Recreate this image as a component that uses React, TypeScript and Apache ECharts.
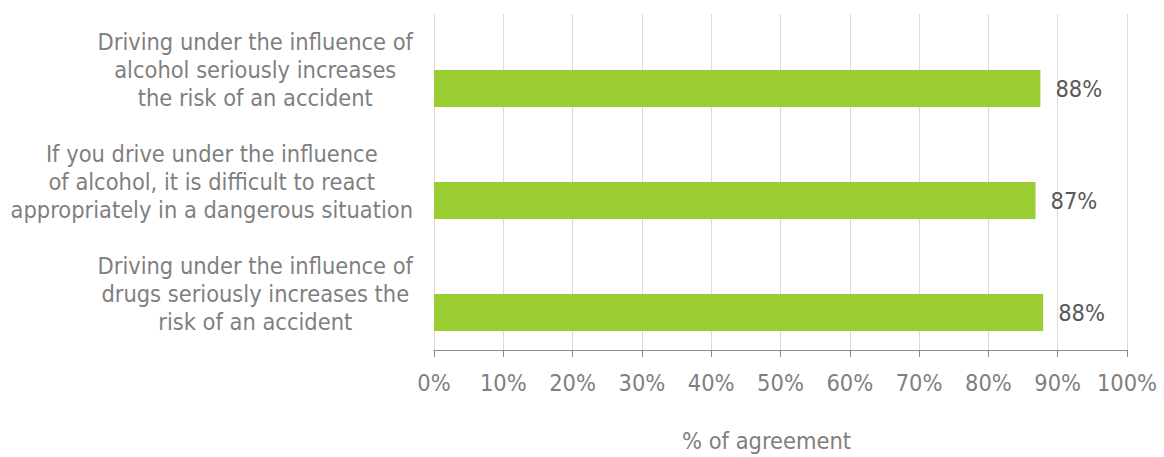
import React, { useEffect, useRef } from "react";
import * as echarts from "echarts";

const categories: string[] = [
  "Driving under the influence of\nalcohol seriously increases\nthe risk of an accident",
  "If you drive under the influence\nof alcohol, it is difficult to react\nappropriately in a dangerous situation",
  "Driving under the influence of\ndrugs seriously increases the\nrisk of an accident",
];
const agreement: number[] = [87.5, 86.8, 87.9];
const spacer: number[] = [0, 0, 0];
const xTicks: number[] = [0, 10, 20, 30, 40, 50, 60, 70, 80, 90, 100];

const FONT = "'DejaVu Sans Condensed', 'DejaVu Sans', sans-serif";
const FS = 23.4;

export default function App() {
  const ref = useRef<HTMLDivElement>(null);
  useEffect(() => {
    document.body.style.margin = "0";
    if (!ref.current) return;
    const chart = echarts.init(ref.current, null, { renderer: "svg" });
    chart.setOption({
      animation: false,
      backgroundColor: "#ffffff",
      grid: { left: 434, right: 37, top: 14, bottom: 107, containLabel: false },
      xAxis: {
        type: "value",
        min: xTicks[0],
        max: xTicks[xTicks.length - 1],
        interval: 10,
        name: "% of agreement",
        nameLocation: "middle",
        nameGap: 79,
        nameTextStyle: {
          fontFamily: FONT,
          fontSize: FS,
          color: "#7f7f7f",
          padding: [0, 28, 0, 0],
        },
        axisLine: { show: true, lineStyle: { color: "#8c8c8c", width: 1 } },
        axisTick: { show: true, length: 7, lineStyle: { color: "#8c8c8c" } },
        axisLabel: {
          formatter: (v: number) => `${v}%`,
          fontFamily: FONT,
          fontSize: FS,
          color: "#7f7f7f",
          margin: 21,
        },
        splitLine: { show: true, lineStyle: { color: "#dcdcdc", width: 1 } },
      },
      yAxis: {
        type: "category",
        inverse: true,
        data: categories,
        axisLine: { show: false },
        axisTick: { show: false },
        axisLabel: {
          align: "right",
          margin: 21,
          fontFamily: FONT,
          fontSize: FS,
          color: "#7f7f7f",
          lineHeight: 28,
          formatter: (v: string) =>
            v
              .split("\n")
              .map((l) => `{c|${l}}`)
              .join("\n"),
          rich: {
            c: {
              align: "center",
              fontFamily: FONT,
              fontSize: FS,
              color: "#7f7f7f",
              lineHeight: 28,
            },
          },
        },
      },
      series: [
        {
          type: "bar",
          name: "spacer",
          data: spacer,
          barWidth: 37,
          barGap: "0%",
          silent: true,
          itemStyle: { color: "rgba(0,0,0,0)" },
          label: { show: false },
        },
        {
          type: "bar",
          name: "agreement",
          data: agreement,
          barWidth: 37,
          barGap: "0%",
          itemStyle: { color: "#9acd32" },
          label: {
            show: true,
            position: "right",
            distance: 15,
            formatter: (p: any) => `${Math.round(p.value)}%`,
            fontFamily: FONT,
            fontSize: FS,
            color: "#595959",
          },
        },
      ],
    });
    return () => chart.dispose();
  }, []);
  return <div ref={ref} style={{ width: 1164, height: 457 }} />;
}
